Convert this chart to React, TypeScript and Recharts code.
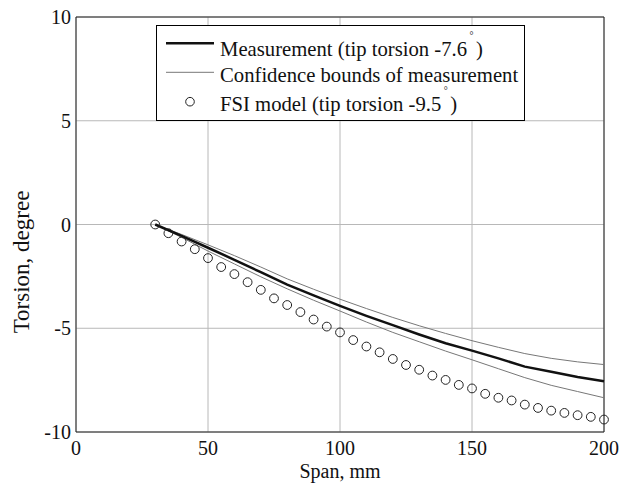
import { ComposedChart, Line, Scatter, XAxis, YAxis, CartesianGrid, Legend, ReferenceLine, Label } from 'recharts'

// span positions (mm)
const spanFsi = [30, 35, 40, 45, 50, 55, 60, 65, 70, 75, 80, 85, 90, 95, 100, 105, 110, 115, 120, 125, 130, 135, 140, 145, 150, 155, 160, 165, 170, 175, 180, 185, 190, 195, 200]
const fsiModel = [0, -0.42, -0.82, -1.19, -1.62, -2.05, -2.39, -2.78, -3.15, -3.56, -3.88, -4.22, -4.58, -4.92, -5.2, -5.57, -5.88, -6.16, -6.48, -6.77, -7.0, -7.28, -7.49, -7.73, -7.9, -8.16, -8.35, -8.48, -8.68, -8.84, -8.97, -9.08, -9.19, -9.27, -9.4]

const spanMeas = [30, 40, 50, 60, 70, 80, 90, 100, 110, 120, 130, 140, 150, 160, 170, 180, 190, 200]
const measurement = [0, -0.55, -1.12, -1.7, -2.3, -2.9, -3.42, -3.92, -4.4, -4.85, -5.3, -5.72, -6.08, -6.45, -6.85, -7.1, -7.35, -7.55]
const boundUpper = [0, -0.48, -0.98, -1.5, -2.05, -2.62, -3.12, -3.6, -4.05, -4.48, -4.88, -5.25, -5.6, -5.92, -6.22, -6.45, -6.62, -6.75]
const boundLower = [0, -0.62, -1.28, -1.9, -2.52, -3.1, -3.65, -4.17, -4.7, -5.2, -5.65, -6.1, -6.52, -6.95, -7.38, -7.75, -8.05, -8.35]

const xTicks = [0, 50, 100, 150, 200]
const yTicks = [-10, -5, 0, 5, 10]

const data = spanFsi.map((span, i) => {
  const m = spanMeas.indexOf(span)
  return {
    span,
    fsi: fsiModel[i],
    meas: m >= 0 ? measurement[m] : undefined,
    upper: m >= 0 ? boundUpper[m] : undefined,
    lower: m >= 0 ? boundLower[m] : undefined,
  }
})

const FONT = '"Liberation Serif", "Times New Roman", serif'

// raised, small degree mark as in the original figure
function Deg() {
  return (
    <span style={{ display: 'inline-block', width: 9, textAlign: 'center', position: 'relative', top: -17, fontSize: 10, lineHeight: '10px' }}>°</span>
  )
}

function LegendBox() {
  const txt = { position: 'absolute' as const, left: 63, lineHeight: '20px', whiteSpace: 'nowrap' as const }
  return (
    <div style={{ position: 'relative', width: 367, height: 94, border: '1px solid #000', background: '#fff', fontFamily: FONT, fontSize: 20.7, color: '#111' }}>
      <svg width={60} height={94} style={{ position: 'absolute', left: 0, top: 0 }}>
        <line x1={9} x2={57} y1={17.3} y2={17.3} stroke="#111" strokeWidth={2.5} />
        <line x1={9} x2={57} y1={46.3} y2={46.3} stroke="#777" strokeWidth={1} />
        <circle cx={33} cy={75.7} r={4.3} fill="none" stroke="#222" />
      </svg>
      <span style={{ ...txt, top: 13 }}>Measurement (tip torsion -7.6<Deg />)</span>
      <span style={{ ...txt, top: 39 }}>Confidence bounds of measurement</span>
      <span style={{ ...txt, top: 68 }}>FSI model (tip torsion -9.5<Deg />)</span>
    </div>
  )
}

const Ring = (props: any) => {
  const { cx, cy } = props
  if (cx == null || cy == null) return null
  return <circle cx={cx} cy={cy} r={4.4} fill="none" stroke="#222" strokeWidth={1} />
}

export default function App() {
  return (
    <div style={{ position: 'absolute', left: 0, top: 0, width: 620, height: 490, background: '#fff' }}>
      <ComposedChart width={620} height={490} data={data} margin={{ top: 17, right: 16, left: 0, bottom: 0 }}>
        <CartesianGrid stroke="#b8b8b8" strokeWidth={1} />
        <XAxis
          dataKey="span"
          type="number"
          domain={[0, 200]}
          ticks={xTicks}
          height={58}
          tickLine={false}
          tickSize={4}
          tickMargin={5}
          axisLine={{ stroke: '#222' }}
          tick={{ fontFamily: FONT, fontSize: 20, fill: '#111' }}
        >
          <Label
            content={() => (
              <text x={340} y={478} textAnchor="middle" fontFamily={FONT} fontSize={20} fill="#111">Span, mm</text>
            )}
          />
        </XAxis>
        <YAxis
          type="number"
          domain={[-10, 10]}
          ticks={yTicks}
          width={76}
          tickLine={false}
          tickSize={3}
          tickMargin={2}
          axisLine={{ stroke: '#222' }}
          tick={{ fontFamily: FONT, fontSize: 20, fill: '#111' }}
        >
          <Label
            content={() => (
              <text x={29} y={262} transform="rotate(-90 29 262)" textAnchor="middle" fontFamily={FONT} fontSize={23} fill="#111">Torsion, degree</text>
            )}
          />
        </YAxis>
        <ReferenceLine y={10} stroke="#222" />
        <ReferenceLine x={200} stroke="#222" />
        <Line dataKey="upper" stroke="#777" strokeWidth={1} dot={false} connectNulls isAnimationActive={false} type="linear" />
        <Line dataKey="lower" stroke="#777" strokeWidth={1} dot={false} connectNulls isAnimationActive={false} type="linear" />
        <Line dataKey="meas" stroke="#111" strokeWidth={2.5} dot={false} connectNulls isAnimationActive={false} type="linear" />
        <Scatter dataKey="fsi" shape={Ring} isAnimationActive={false} />
        <Legend
          layout="vertical"
          align="center"
          verticalAlign="middle"
          content={() => <LegendBox />}
          wrapperStyle={{ position: 'absolute', left: 156, top: 25, width: 369, height: 96 }}
        />
      </ComposedChart>
    </div>
  )
}
